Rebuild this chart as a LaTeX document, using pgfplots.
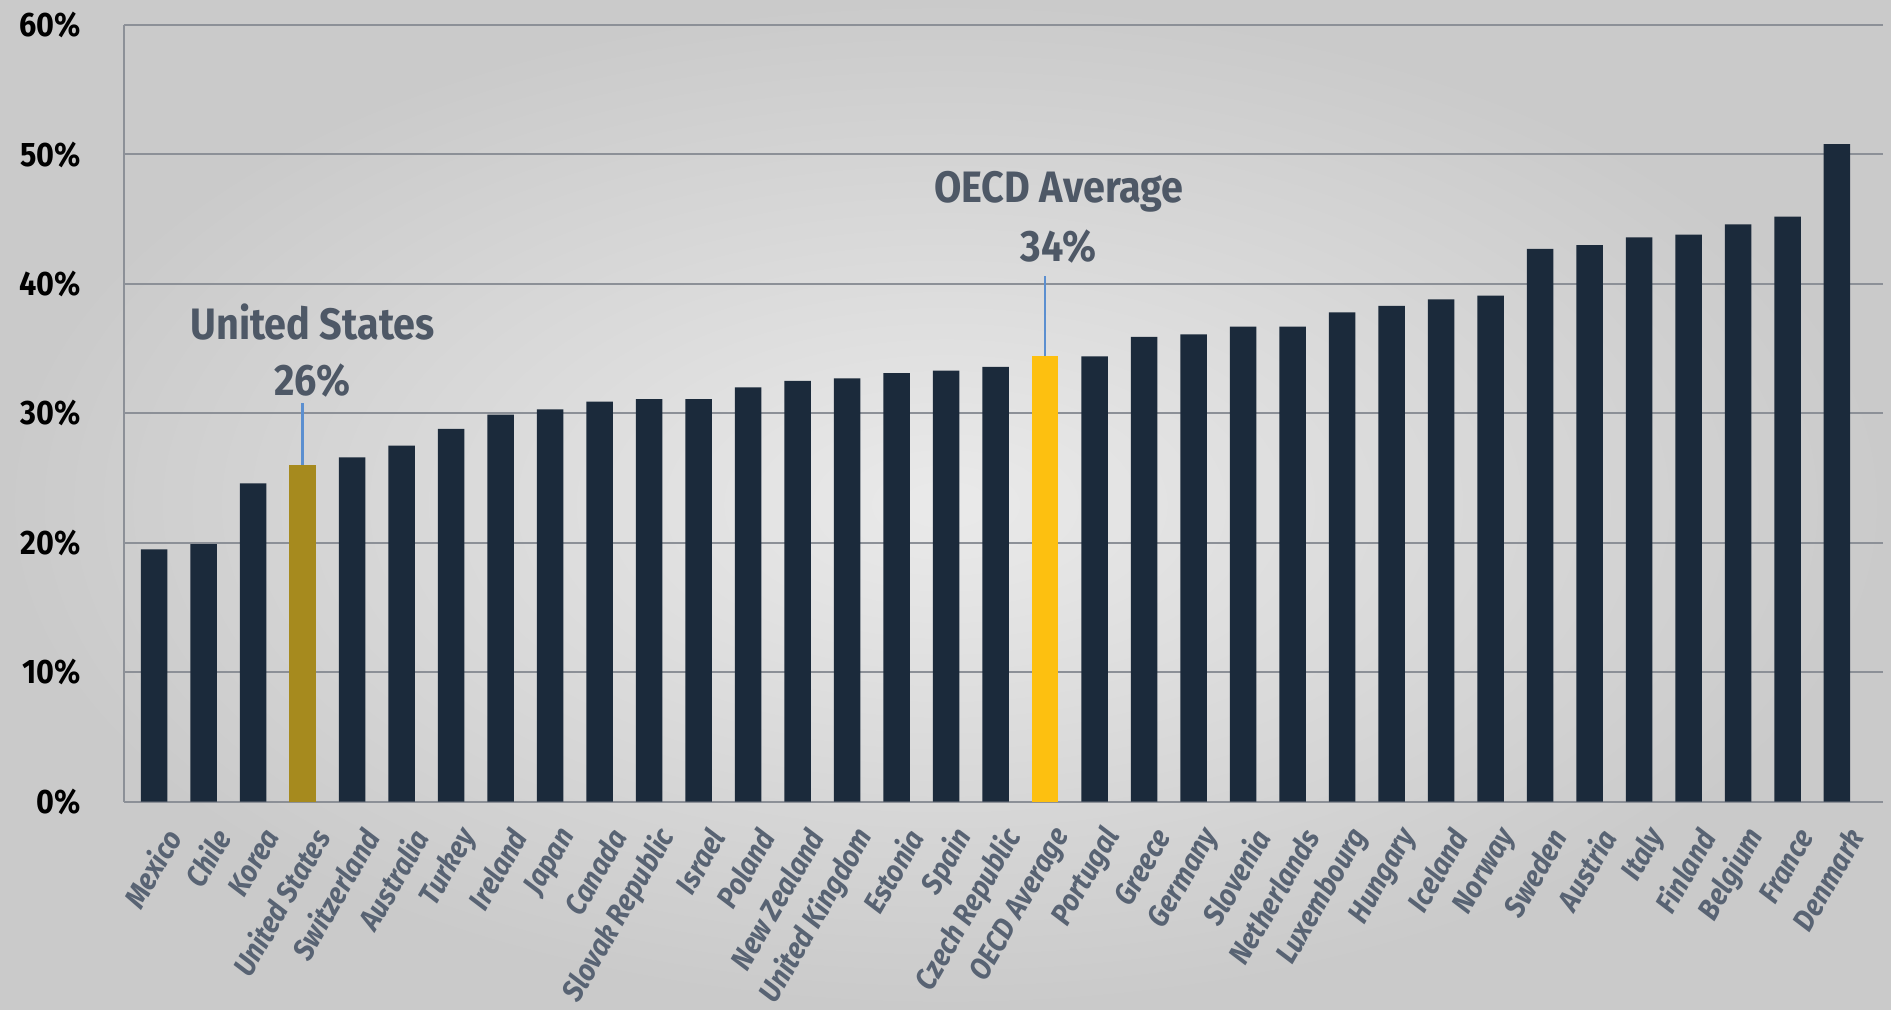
\documentclass[border=0pt]{standalone}
\usepackage{pgfplots}
\pgfplotsset{compat=1.18}
\usepackage{fontspec}
\setmainfont{Fira Sans}[FakeStretch=0.9]
\definecolor{barnavy}{HTML}{1B2A3B}
\definecolor{usgold}{HTML}{A68A1E}
\definecolor{oecdyel}{HTML}{FDC010}
\definecolor{gridgray}{HTML}{8C9097}
\definecolor{labslate}{HTML}{586373}
\definecolor{annslate}{HTML}{4E5866}
\definecolor{annblue}{HTML}{5B8FD0}

\begin{document}
\begin{tikzpicture}
\shade[inner color={rgb,255:red,234;green,234;blue,234}, outer color={rgb,255:red,202;green,202;blue,202}]
  (0,0) rectangle (945.5pt,504.5pt);
\begin{axis}[
  at={(62pt,103.65pt)}, anchor=south west,
  scale only axis, width=879.5pt, height=388.35pt,
  xmin=-0.61, xmax=34.93, ymin=0, ymax=60,
  axis x line*=bottom, axis y line*=left,
  axis line style={gridgray, line width=1pt},
  ymajorgrids, grid style={gridgray, line width=1pt},
  major tick length=0pt,
  xtick={0,...,34},
  xticklabels={Mexico, Chile, Korea, United States, Switzerland, Australia, Turkey, Ireland, Japan, Canada, Slovak Republic, Israel, Poland, New Zealand, United Kingdom, Estonia, Spain, Czech Republic, OECD Average, Portugal, Greece, Germany, Slovenia, Netherlands, Luxembourg, Hungary, Iceland, Norway, Sweden, Austria, Italy, Finland, Belgium, France, Denmark},
  xticklabel style={xshift=11pt, yshift=-12pt, rotate=60, anchor=east, text=labslate, font=\bfseries\itshape\fontsize{15}{15}\selectfont},
  ytick={0,10,...,60},
  yticklabels={0\%, 10\%, 20\%, 30\%, 40\%, 50\%, 60\%},
  yticklabel style={anchor=east, xshift=-18pt, text=black, font=\bfseries\fontsize{17}{17}\selectfont},
]
% all countries
\addplot[ybar, bar width=13.25pt, bar shift=0pt, fill=barnavy, draw=none] coordinates {
  (0,19.5) (1,19.9) (2,24.6) (4,26.6) (5,27.5) (6,28.8) (7,29.9) (8,30.3)
  (9,30.9) (10,31.1) (11,31.1) (12,32.0) (13,32.5) (14,32.7) (15,33.1)
  (16,33.3) (17,33.6) (19,34.4) (20,35.9) (21,36.1) (22,36.7) (23,36.7)
  (24,37.8) (25,38.3) (26,38.8) (27,39.1) (28,42.7) (29,43.0) (30,43.6)
  (31,43.8) (32,44.6) (33,45.2) (34,50.8)
};
% United States
\addplot[ybar, bar width=13.25pt, bar shift=0pt, fill=usgold, draw=none] coordinates {(3,26.0)};
% OECD average
\addplot[ybar, bar width=13.25pt, bar shift=0pt, fill=oecdyel, draw=none] coordinates {(18,34.4)};

\draw[annblue, line width=1.2pt] (axis cs:3,26.0) -- (axis cs:3,30.8);
\draw[annblue, line width=1.2pt] (axis cs:18,34.4) -- (axis cs:18,40.6);
\node[anchor=base, text=annslate, font=\bfseries\fontsize{22}{22}\selectfont, inner sep=0pt] at (axis cs:3.2,35.7) {United States};
\node[anchor=base, text=annslate, font=\bfseries\fontsize{22}{22}\selectfont, inner sep=0pt] at (axis cs:3.2,31.4) {26\%};
\node[anchor=base, text=annslate, font=\bfseries\fontsize{22}{22}\selectfont, inner sep=0pt] at (axis cs:18.28,46.25) {OECD Average};
\node[anchor=base, text=annslate, font=\bfseries\fontsize{22}{22}\selectfont, inner sep=0pt] at (axis cs:18.27,41.7) {34\%};
\end{axis}
\pgfresetboundingbox
\path[use as bounding box] (0,0) rectangle (945.5pt,504.5pt);
\end{tikzpicture}
\end{document}
